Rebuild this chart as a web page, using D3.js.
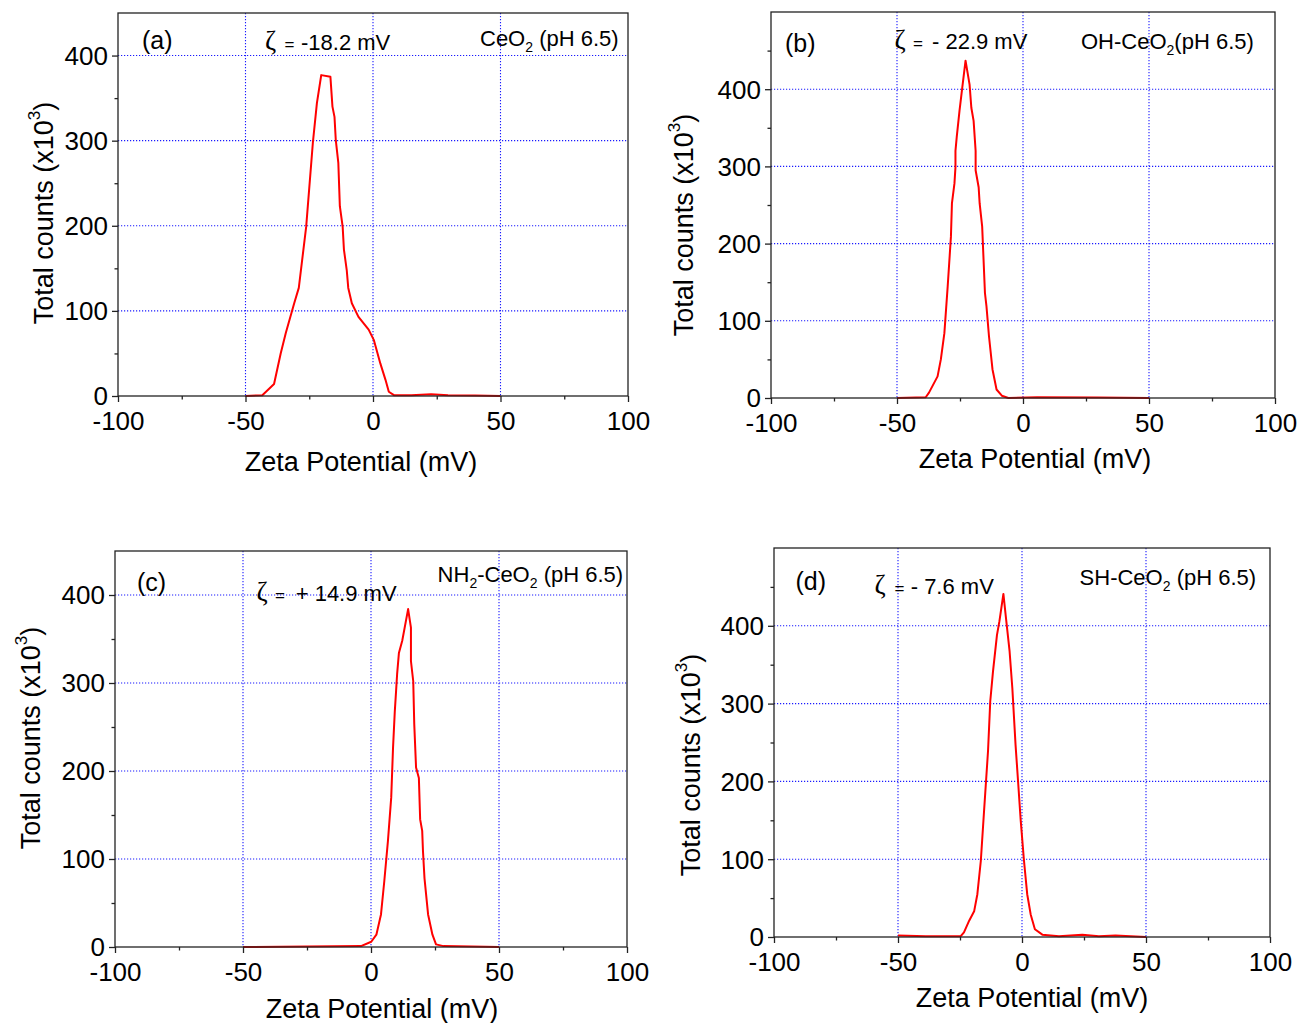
<!DOCTYPE html>
<html><head><meta charset="utf-8">
<script src="https://cdn.jsdelivr.net/npm/d3@7"></script>
<style>
body{margin:0;background:#fff}
svg{display:block}
text{font-family:"Liberation Sans",Arial,Helvetica,sans-serif;fill:#000}
</style>
</head><body><svg id="chart" width="1301" height="1023"></svg>
<script>
// ---------- data ----------
const xTicks = [-100, -50, 0, 50, 100];
const xTickLabels = ["-100", "-50", "0", "50", "100"];
const xMinorTicks = [-75, -25, 25, 75];
const yTicks = [0, 100, 200, 300, 400];
const yTickLabels = ["0", "100", "200", "300", "400"];
const yMinorTicks450 = [50, 150, 250, 350];
const yMinorTicks500 = [50, 150, 250, 350, 450];
const xGrid = [-50, 0, 50];
const yGrid = [100, 200, 300, 400];

const panelLabels = ["(a)", "(b)", "(c)", "(d)"];
const zetaValues = ["-18.2 mV", "- 22.9 mV", "+ 14.9 mV", "- 7.6 mV"];
const sampleNames = [["CeO", "2", " (pH 6.5)"], ["OH-CeO", "2", "(pH 6.5)"], ["NH", "2", "-CeO", "2", " (pH 6.5)"], ["SH-CeO", "2", " (pH 6.5)"]];
const xTitle = "Zeta Potential (mV)";
const yTitle = ["Total counts (x10", "3", ")"];

// (a) CeO2
const aMv = [-50, -43.4, -38.8, -36.2, -34.2, -30.9, -29.1, -26.2, -23.6, -22.0, -20.3, -16.7, -15.9, -15.1, -14.6, -13.6, -13.0, -11.9, -11.4, -10.3, -9.7, -8.3, -5.7, -1.7, 0.3, 2.9, 4.9, 6.2, 8.2, 15, 22.8, 29.4, 40, 50];
const aCounts = [0, 1, 14, 50, 74, 109, 127, 199, 297, 344, 377, 375, 340, 328, 301, 274, 223, 199, 172, 148, 127, 109, 93, 78, 66, 38, 19, 5, 1, 1, 2, 1, 0.5, 0];
// (b) OH-CeO2
const bMv = [-50, -38.6, -37.3, -33.9, -32.6, -31.2, -29.9, -28.6, -28.2, -27.2, -26.8, -26.8, -26.3, -25.2, -24.1, -22.8, -21.2, -20.5, -19.6, -18.8, -18.8, -17.6, -17.2, -16.2, -15.1, -14.5, -13.5, -12.1, -10.5, -8.4, -5.8, 5.6, 29.8, 50];
const bCounts = [0, 1, 7, 28, 50, 84, 144, 209, 252, 278, 299, 320, 338, 372, 402, 437, 406, 376, 359, 320, 295, 273, 252, 222, 136, 119, 80, 37, 11, 3, 0, 1, 0.5, 0];
// (c) NH2-CeO2
const cMv = [-50, -3.9, 0.1, 2.1, 3.9, 5.2, 6.6, 7.9, 8.6, 9.3, 9.8, 10.2, 10.9, 12.2, 14.5, 15.6, 15.6, 16.5, 16.9, 17.6, 18.7, 19.2, 20.0, 20.3, 20.9, 22.3, 24.0, 25.4, 28.3, 50];
const cCounts = [0, 1, 6, 14, 37, 75, 120, 170, 226, 268, 291, 310, 334, 348, 384, 363, 325, 302, 253, 204, 192, 145, 132, 109, 78, 37, 14, 3, 1, 0];
// (d) SH-CeO2
const dMv = [-50, -38.8, -24.7, -23.4, -21.3, -19.3, -18.0, -16.6, -15.3, -13.7, -12.8, -11.7, -10.1, -9.1, -7.5, -6.6, -5.0, -3.9, -2.6, -1.5, -0.5, 0.8, 2.1, 3.5, 5.2, 8.2, 14.9, 24.3, 31.0, 37.7, 50];
const dCounts = [2, 1, 1, 6, 21, 33, 55, 98, 162, 239, 303, 341, 388, 406, 441, 414, 367, 320, 247, 196, 149, 98, 55, 29, 10, 3, 1, 3, 1, 2, 0];

const seriesMv = [aMv, bMv, cMv, dMv];
const seriesCounts = [aCounts, bCounts, cCounts, dCounts];

// ---------- layout ----------
const layout = [
  {l:118, r:628, t:13,  b:396, ymax:450, minor:yMinorTicks450, xt:[361, 471],  yt:[43, 213],
   lab:[142, 48.5], z:[265, 284.5, 301, 49.5], n:[480, 46]},
  {l:771, r:1275, t:12, b:398, ymax:500, minor:yMinorTicks500, xt:[1035, 468], yt:[683, 225],
   lab:[785, 51.5], z:[894.5, 913, 932, 48.5], n:[1081, 48.5]},
  {l:115, r:627, t:551, b:947, ymax:450, minor:yMinorTicks450, xt:[382, 1018], yt:[30, 738],
   lab:[137, 591], z:[256.5, 275, 295.7, 601], n:[437.6, 582]},
  {l:774, r:1270, t:548, b:937, ymax:500, minor:yMinorTicks500, xt:[1032, 1007], yt:[690, 765],
   lab:[795.5, 590], z:[874.5, 894.5, 910.7, 594], n:[1079.6, 585]}
];

const svg = d3.select("#chart");
const gridColor = "#1a1aff";

layout.forEach((L, i) => {
  const x = d3.scaleLinear().domain([-100, 100]).range([L.l, L.r]);
  const y = d3.scaleLinear().domain([0, L.ymax]).range([L.b, L.t]);
  const g = svg.append("g");

  // grid
  g.selectAll(".gx").data(xGrid).enter().append("line")
    .attr("x1", d => x(d)).attr("x2", d => x(d)).attr("y1", L.t).attr("y2", L.b)
    .attr("stroke", gridColor).attr("stroke-width", 1.1).attr("stroke-dasharray", "1.2,1.8");
  g.selectAll(".gy").data(yGrid).enter().append("line")
    .attr("x1", L.l).attr("x2", L.r).attr("y1", d => y(d)).attr("y2", d => y(d))
    .attr("stroke", gridColor).attr("stroke-width", 1.1).attr("stroke-dasharray", "1.2,1.8");

  // curve
  const pts = seriesMv[i].map((v, k) => [v, seriesCounts[i][k]]);
  g.append("path").datum(pts)
    .attr("d", d3.line().x(d => x(d[0])).y(d => y(d[1])))
    .attr("fill", "none").attr("stroke", "#ff0000").attr("stroke-width", 2).attr("stroke-linejoin", "round");

  // box
  g.append("rect").attr("x", L.l).attr("y", L.t).attr("width", L.r - L.l).attr("height", L.b - L.t)
    .attr("fill", "none").attr("stroke", "#222").attr("stroke-width", 1.3);

  // axes
  const ax = g.append("g").attr("transform", `translate(0,${L.b})`)
    .call(d3.axisBottom(x).tickValues(xTicks).tickSize(6).tickFormat((d, k) => xTickLabels[k]));
  ax.append("g").call(d3.axisBottom(x).tickValues(xMinorTicks).tickSize(3.5).tickFormat(""));
  const ay = g.append("g").attr("transform", `translate(${L.l},0)`)
    .call(d3.axisLeft(y).tickValues(yTicks).tickSize(6).tickPadding(4).tickFormat((d, k) => yTickLabels[k]));
  ay.append("g").call(d3.axisLeft(y).tickValues(L.minor).tickSize(3.5).tickFormat(""));
  [ax, ay].forEach(a => {
    a.selectAll(".domain").remove();
    a.selectAll("line").attr("stroke", "#222").attr("stroke-width", 1.3);
    a.selectAll("text").attr("font-size", 26).attr("fill", "#000")
      .style("font-family", '"Liberation Sans",Arial,sans-serif');
  });
  ax.selectAll(".tick text").attr("dy", null).attr("y", 34);
  ay.selectAll(".tick text").attr("dy", "0.34em");

  // axis titles
  g.append("text").attr("x", L.xt[0]).attr("y", L.xt[1]).attr("text-anchor", "middle")
    .attr("font-size", 27).text(xTitle);
  const yt = g.append("text").attr("text-anchor", "middle").attr("font-size", 27)
    .attr("transform", `translate(${L.yt[0]},${L.yt[1]}) rotate(-90)`).attr("dy", "0.36em");
  yt.append("tspan").text(yTitle[0]);
  yt.append("tspan").attr("font-size", 17).attr("dy", "-0.75em").text(yTitle[1]);
  yt.append("tspan").attr("dy", "0.48em").text(yTitle[2]);

  // panel label
  g.append("text").attr("x", L.lab[0]).attr("y", L.lab[1]).attr("font-size", 25).text(panelLabels[i]);

  // zeta annotation
  const zt = g.append("text").attr("y", L.z[3]);
  zt.append("tspan").attr("x", L.z[0]).attr("font-size", 27)
    .style("font-family", '"Liberation Serif","DejaVu Serif",serif').text("ζ");
  zt.append("tspan").attr("x", L.z[1]).attr("font-size", 17).text("=");
  zt.append("tspan").attr("x", L.z[2]).attr("font-size", 22).text(zetaValues[i]);

  // sample name with subscripts
  const nt = g.append("text").attr("x", L.n[0]).attr("y", L.n[1]).attr("font-size", 22);
  let sub = false;
  sampleNames[i].forEach((part, k) => {
    const isSub = part === "2" && k > 0;
    const ts = nt.append("tspan").text(part);
    if (isSub) { ts.attr("font-size", 14).attr("dy", 6); sub = true; }
    else if (sub) { ts.attr("dy", -6); sub = false; }
  });
});
</script>
</body></html>
